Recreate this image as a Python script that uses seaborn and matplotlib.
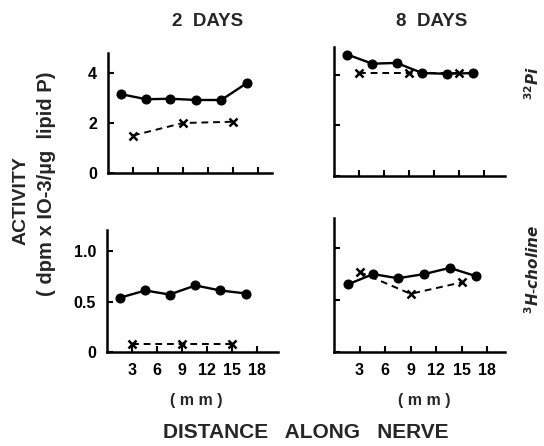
import matplotlib
matplotlib.use("Agg")
import matplotlib.pyplot as plt
import seaborn as sns
import pandas as pd

sns.set_theme(style="white")
plt.rcParams['font.family'] = ['Liberation Sans', 'DejaVu Sans']
plt.rcParams['font.weight'] = 'bold'

# ---- data ----
circle_x = [1.6, 4.6, 7.5, 10.6, 13.6, 16.7]
cross_x = [3, 9, 15]

p32_2d_circle = [3.15, 2.95, 2.97, 2.92, 2.92, 3.6]
p32_2d_cross = [1.5, 2.0, 2.05]
p32_8d_circle = [4.8, 4.44, 4.47, 4.07, 4.04, 4.07]
p32_8d_cross = [4.07, 4.07, 4.07]

h3_2d_circle = [0.54, 0.61, 0.57, 0.66, 0.61, 0.58]
h3_2d_cross = [0.08, 0.08, 0.08]
h3_8d_circle = [0.65, 0.75, 0.71, 0.75, 0.81, 0.73]
h3_8d_cross = [0.77, 0.56, 0.67]

col_titles = ["2  DAYS", "8  DAYS"]
row_labels = [r"$^{32}$$\it{Pi}$", r"$^{3}$$\it{H}$-$\it{choline}$"]
x_ticks = [3, 6, 9, 12, 15, 18]
x_tick_labels = ["3", "6", "9", "12", "15", "18"]
top_y_ticks = [0, 2, 4]
top_y_labels = ["0", "2", "4"]
bot_y_ticks = [0, 0.5, 1.0]
bot_y_labels = ["0", "0.5", "1.0"]

W, H = 544, 446
fig = plt.figure(figsize=(W / 100, H / 100), dpi=100)


def add_ax(left, right, bottom, top):
    return fig.add_axes([left / W, (H - bottom) / H, (right - left) / W, (bottom - top) / H])


panels = [
    (add_ax(108, 272, 173, 53), p32_2d_circle, p32_2d_cross, (0, 19.7), (0, 4.8), True, False),
    (add_ax(334, 505, 176, 47), p32_8d_circle, p32_8d_cross, (0, 20.5), (0, 5.1), False, False),
    (add_ax(107, 278, 352, 230), h3_2d_circle, h3_2d_cross, (0, 20.5), (0, 1.21), True, True),
    (add_ax(334, 505, 352, 218), h3_8d_circle, h3_8d_cross, (0, 20.1), (0, 1.29), False, True),
]

for i, (ax, circ, cross, xl, yl, ylab, xlab) in enumerate(panels):
    dc = pd.DataFrame({"x": circle_x, "y": circ})
    dx = pd.DataFrame({"x": cross_x, "y": cross})
    sns.lineplot(data=dc, x="x", y="y", ax=ax, color="black", marker="o",
                 markersize=6.5, linewidth=1.7, linestyle="-", markeredgecolor="black")
    sns.lineplot(data=dx, x="x", y="y", ax=ax, color="black", marker="x",
                 markersize=6, markeredgewidth=1.8, markeredgecolor="black",
                 linewidth=1.4, linestyle=(0, (3.5, 2.5)))
    ax.set_xlim(*xl)
    ax.set_ylim(*yl)
    ax.set_xlabel("")
    ax.set_ylabel("")
    for s in ["top", "right"]:
        ax.spines[s].set_visible(False)
    for s in ["left", "bottom"]:
        ax.spines[s].set_linewidth(1.8)
        ax.spines[s].set_color("black")
    ax.set_xticks(x_ticks)
    if i < 2:
        ax.set_yticks(top_y_ticks)
        ax.set_yticklabels(top_y_labels)
    else:
        ax.set_yticks(bot_y_ticks)
        ax.set_yticklabels(bot_y_labels)
    if xlab:
        ax.set_xticklabels(x_tick_labels)
    else:
        ax.set_xticklabels([])
    if not ylab:
        ax.set_yticklabels([])
    ax.tick_params(axis="both", direction="in", length=4, width=1.5, colors="black",
                   labelsize=11.5, pad=8, bottom=True, left=True)
    for t in ax.get_xticklabels() + ax.get_yticklabels():
        t.set_fontweight("bold")
    ax.set_facecolor("white")

fig.text(208 / W, 1 - 22 / H, col_titles[0], ha="center", va="center", fontsize=13.5, fontweight="bold")
fig.text(432 / W, 1 - 22 / H, col_titles[1], ha="center", va="center", fontsize=13.5, fontweight="bold")

fig.text(533 / W, 1 - 83 / H, row_labels[0], ha="center", va="center", rotation=90, fontsize=11, fontweight="bold")
fig.text(533 / W, 1 - 269 / H, row_labels[1], ha="center", va="center", rotation=90, fontsize=11, fontweight="bold")

fig.text(21 / W, 1 - 201 / H, "ACTIVITY", ha="center", va="center", rotation=90, fontsize=14, fontweight="bold")
fig.text(47 / W, 1 - 184 / H, "( dpm x IO-3/\u00b5g  lipid P)", ha="center", va="center", rotation=90,
         fontsize=14.5, fontweight="bold")

fig.text(196 / W, 1 - 400 / H, "( m m )", ha="center", va="center", fontsize=11.5, fontweight="bold")
fig.text(424 / W, 1 - 400 / H, "( m m )", ha="center", va="center", fontsize=11.5, fontweight="bold")
fig.text(306 / W, 1 - 432 / H, "DISTANCE   ALONG   NERVE", ha="center", va="center", fontsize=15,
         fontweight="bold")

fig.savefig("out.png", dpi=100, facecolor="white")
